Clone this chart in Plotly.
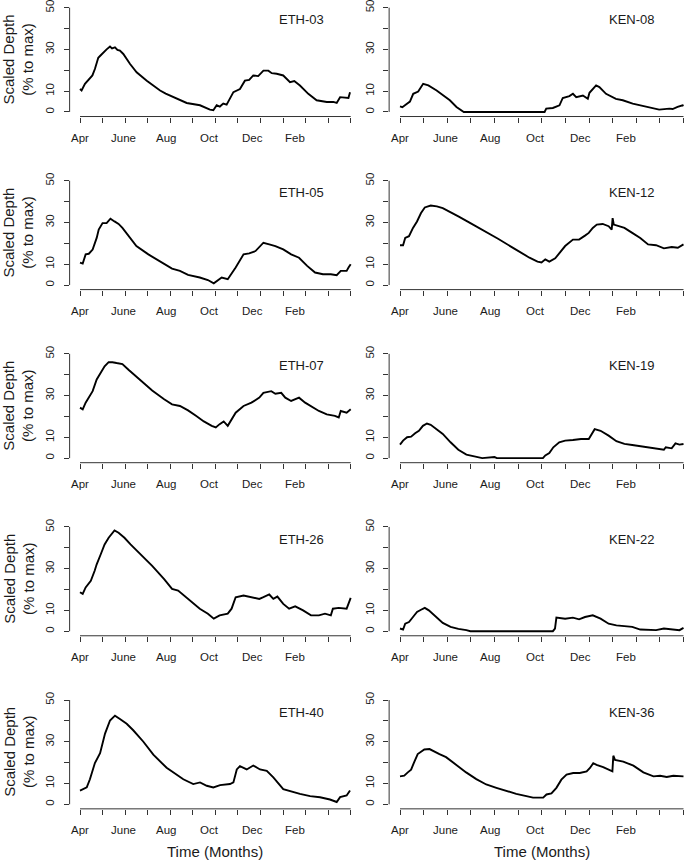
import plotly.graph_objects as go

W, H = 685, 860

# ---------------- data (months since 1 April, scaled depth %) ----------------
ETH03_m = [0, 0.07, 0.22, 0.44, 0.55, 0.66, 0.81, 0.92, 1.03, 1.18, 1.33, 1.42, 1.55, 1.66, 1.77, 1.92, 2.22, 2.51, 2.96, 3.55, 3.8, 4.14, 4.73, 5.32, 5.76, 5.91, 6.06, 6.2, 6.35, 6.5, 6.8, 7.09, 7.31, 7.5, 7.68, 7.9, 8.13, 8.35, 8.5, 8.72, 9.01, 9.31, 9.5, 9.75, 10.12, 10.49, 10.94, 11.23, 11.38, 11.53, 11.9, 11.97]
ETH03_v = [11, 10.3, 13.5, 15.9, 17.5, 20.6, 26, 27.2, 28.6, 30, 31.4, 30.5, 31, 29.8, 29.4, 27.8, 23, 19, 15, 10.3, 8.8, 7.1, 4.3, 3.2, 1.1, 0.8, 3.2, 2.6, 4, 3.5, 9.5, 11, 15, 15.4, 17.5, 17.2, 19.8, 19.8, 18.6, 18.3, 17.5, 14.3, 14.8, 12.7, 8.7, 5.6, 4.8, 4.8, 4.3, 7.1, 6.7, 9.5]

KEN08_m = [0, 0.1, 0.21, 0.42, 0.56, 0.77, 0.98, 1.2, 1.55, 1.83, 2.11, 2.39, 2.6, 2.7, 6.12, 6.19, 6.47, 6.75, 6.89, 7.17, 7.32, 7.46, 7.74, 7.95, 8.02, 8.23, 8.3, 8.44, 8.72, 9.14, 9.43, 9.85, 10.41, 10.83, 10.97, 11.4, 11.54, 11.75, 11.96, 12]
KEN08_v = [2.7, 2.3, 3.2, 5, 8.7, 9.8, 13.5, 12.7, 10.3, 7.9, 5.6, 2.4, 0.5, 0, 0, 1.6, 1.9, 3.2, 6.7, 7.6, 8.7, 7.1, 7.9, 6.3, 9.2, 11.9, 12.7, 11.9, 8.7, 6.3, 5.6, 4, 2.7, 1.6, 1.1, 1.6, 1.4, 2.4, 3.2, 2.9]

ETH05_m = [0, 0.12, 0.25, 0.39, 0.56, 0.74, 0.83, 1.0, 1.18, 1.35, 1.53, 1.71, 1.88, 2.15, 2.5, 3.03, 3.55, 4.08, 4.43, 4.79, 5.31, 5.67, 5.93, 6.11, 6.28, 6.55, 6.9, 7.25, 7.5, 7.78, 8.13, 8.39, 8.66, 9.01, 9.36, 9.71, 10.07, 10.42, 10.77, 11.12, 11.38, 11.56, 11.82, 11.91, 12]
ETH05_v = [10.8, 10.3, 14.7, 15, 17, 22.6, 26.6, 29.7, 29.7, 31.8, 30.5, 29.3, 27.4, 23.4, 18.7, 14.7, 11.2, 7.9, 6.8, 4.9, 3.6, 2.4, 0.8, 2.4, 3.6, 2.8, 8.4, 14.7, 15.2, 16.3, 20.3, 19.5, 18.7, 17.1, 14.7, 13.1, 9.2, 6, 5.2, 5.2, 4.7, 6.8, 6.8, 8.5, 10]

KEN12_m = [0, 0.13, 0.22, 0.38, 0.55, 0.72, 0.89, 1.05, 1.3, 1.56, 1.81, 2.14, 2.47, 2.98, 3.48, 4.15, 4.82, 5.48, 5.82, 5.99, 6.15, 6.32, 6.57, 6.82, 6.99, 7.32, 7.58, 7.83, 7.99, 8.16, 8.33, 8.58, 8.83, 8.96, 9.0, 9.05, 9.25, 9.5, 9.83, 10.17, 10.5, 10.84, 11.17, 11.5, 11.76, 12]
KEN12_v = [19.1, 19.1, 22.6, 23.4, 27.4, 30.5, 34.5, 37.2, 38.1, 37.7, 36.9, 35, 32.9, 29.7, 26.6, 22.2, 17.6, 13.1, 11.2, 10.8, 12.3, 11.2, 12.8, 16.3, 18.7, 21.8, 21.8, 23.7, 25, 27.4, 29, 29.3, 28.2, 26.6, 32.1, 29, 28.2, 27.4, 25, 22.6, 19.5, 19.1, 17.6, 18.2, 17.9, 19.5]

ETH07_m = [0, 0.12, 0.25, 0.39, 0.56, 0.74, 0.92, 1.09, 1.27, 1.44, 1.62, 1.88, 2.15, 2.5, 2.85, 3.2, 3.73, 4.08, 4.43, 4.79, 5.14, 5.49, 5.84, 6.02, 6.19, 6.37, 6.55, 6.9, 7.25, 7.6, 7.95, 8.13, 8.48, 8.66, 8.92, 9.1, 9.36, 9.71, 9.98, 10.33, 10.59, 10.94, 11.3, 11.47, 11.56, 11.82, 12]
ETH07_v = [24.2, 23.4, 26.6, 29.3, 32.1, 37.7, 40.8, 44, 46, 46, 45.6, 45.1, 42.4, 39.2, 35.6, 32.4, 28.2, 25.8, 25, 22.9, 20.3, 17.6, 15.5, 14.7, 16.3, 17.6, 15.5, 21.8, 25, 26.6, 29, 31.3, 32.1, 30.9, 31.3, 29, 27.4, 29, 26.6, 24.2, 22.6, 21, 20.3, 19.5, 22.6, 21.8, 23.4]

KEN19_m = [0, 0.13, 0.3, 0.47, 0.64, 0.8, 0.97, 1.14, 1.3, 1.56, 1.81, 2.14, 2.47, 2.81, 3.14, 3.48, 4.0, 4.1, 6.05, 6.15, 6.32, 6.49, 6.74, 6.99, 7.32, 7.66, 7.99, 8.16, 8.24, 8.49, 8.83, 9.16, 9.5, 9.83, 10.17, 10.5, 10.84, 11.17, 11.25, 11.5, 11.66, 11.83, 12]
KEN19_v = [6.5, 8.4, 10, 10.3, 11.9, 13.1, 15.5, 16.6, 16, 13.9, 11.6, 7.6, 4, 1.7, 0.8, 0, 0.5, 0, 0, 1.3, 2.4, 5.2, 7.6, 8.4, 8.7, 9.2, 9.2, 12.3, 13.9, 13.1, 10.8, 8.1, 6.8, 6.3, 5.7, 5.2, 4.7, 4, 5.2, 4.7, 7.1, 6.5, 6.8]

ETH26_m = [0, 0.12, 0.25, 0.48, 0.65, 0.74, 0.92, 1.09, 1.27, 1.44, 1.53, 1.71, 1.97, 2.24, 2.68, 3.2, 3.73, 4.08, 4.35, 4.79, 5.31, 5.67, 5.93, 6.19, 6.55, 6.72, 6.9, 7.25, 7.6, 7.95, 8.13, 8.39, 8.57, 8.75, 9.01, 9.27, 9.54, 9.89, 10.24, 10.59, 10.86, 11.12, 11.21, 11.47, 11.82, 11.91, 12]
ETH26_v = [18.7, 17.9, 21, 24.2, 29, 32.1, 36.9, 41.6, 44.8, 47.2, 48.3, 47.2, 44.8, 41.6, 36.9, 31.3, 25, 20.3, 19.5, 15.5, 10.8, 8.4, 6, 7.6, 8.4, 10.8, 16.3, 17.1, 16.3, 15.5, 16.3, 17.6, 15.5, 16.6, 13.1, 10.8, 11.9, 10, 7.6, 7.6, 8.4, 7.6, 10.8, 11.2, 10.8, 14, 16]

KEN22_m = [0, 0.13, 0.22, 0.38, 0.55, 0.72, 0.89, 1.05, 1.22, 1.47, 1.81, 2.14, 2.47, 2.81, 2.98, 6.47, 6.56, 6.62, 6.99, 7.32, 7.58, 7.83, 8.16, 8.49, 8.83, 9.16, 9.5, 9.83, 10.17, 10.5, 10.84, 11.17, 11.5, 11.83, 12]
KEN22_v = [1.3, 0.8, 3.6, 4.4, 6.8, 9.2, 10.3, 11.2, 10, 7.6, 4, 2.1, 1.1, 0.5, 0, 0, 1.3, 6.5, 6, 6.5, 5.7, 6.8, 7.6, 6, 3.6, 2.8, 2.4, 2.1, 0.8, 0.5, 0.5, 1.3, 0.8, 0.5, 1.6]

ETH40_m = [0, 0.3, 0.44, 0.66, 0.89, 1.11, 1.33, 1.55, 1.77, 2.07, 2.36, 2.81, 3.25, 3.84, 4.58, 5.02, 5.32, 5.62, 5.91, 6.21, 6.65, 6.8, 6.95, 7.09, 7.39, 7.68, 7.98, 8.28, 8.57, 9.01, 9.75, 10.2, 10.64, 11.08, 11.38, 11.53, 11.82, 11.97]
ETH40_v = [6.6, 8.1, 12, 19.8, 24.5, 33.9, 40.2, 42.5, 40.9, 38.6, 35.5, 30, 23.8, 17.5, 12, 9.7, 10.5, 8.9, 8.1, 9.2, 9.7, 10.5, 16.7, 18.3, 16.7, 18.6, 16.7, 16, 12.9, 7.3, 5, 3.9, 3.4, 2.3, 1.1, 3.4, 4.2, 6.6]

KEN36_m = [0, 0.18, 0.33, 0.47, 0.61, 0.75, 0.89, 1.03, 1.25, 1.46, 1.67, 1.95, 2.38, 2.8, 3.23, 3.65, 4.08, 4.5, 4.92, 5.35, 5.63, 6.06, 6.2, 6.41, 6.62, 6.83, 7.05, 7.33, 7.61, 7.9, 8.04, 8.18, 8.32, 8.6, 8.89, 8.99, 9.03, 9.1, 9.45, 9.88, 10.3, 10.73, 11.01, 11.29, 11.57, 11.86, 12]
KEN36_v = [13.4, 13.7, 15.3, 16.6, 20.5, 24.1, 25.2, 26.3, 26.5, 25.2, 24.1, 22.6, 18.9, 15.3, 12.1, 9.5, 7.9, 6.3, 5, 3.9, 3.2, 3.2, 4.7, 5.2, 7.9, 11.8, 14.2, 15, 15, 15.8, 17.4, 19.7, 18.9, 17.8, 16.2, 15.8, 23.3, 21.3, 20.5, 18.5, 15.3, 13.4, 13.7, 13.1, 13.7, 13.4, 13.4]

site_names = ["ETH-03", "KEN-08", "ETH-05", "KEN-12", "ETH-07", "KEN-19", "ETH-26", "KEN-22", "ETH-40", "KEN-36"]
site_m = [ETH03_m, KEN08_m, ETH05_m, KEN12_m, ETH07_m, KEN19_m, ETH26_m, KEN22_m, ETH40_m, KEN36_m]
site_v = [ETH03_v, KEN08_v, ETH05_v, KEN12_v, ETH07_v, KEN19_v, ETH26_v, KEN22_v, ETH40_v, KEN36_v]

month_ticks = list(range(13))
month_label_pos = [0, 1.91, 3.82, 5.73, 7.64, 9.55]
month_labels = ["Apr", "June", "Aug", "Oct", "Dec", "Feb"]
y_ticks = [0, 10, 20, 30, 40, 50]
y_ticktext = ["0", "10", "", "30", "", "50"]

# ---------------- layout geometry (pixels) ----------------
FONT = "Liberation Sans, Arial, Helvetica, sans-serif"
TXT = "#1a1a1a"
AX = "#333333"
row_p50 = [1.7 + 174.3 * r for r in range(5)]
col_x0 = [80.0, 400.0]
col_x12 = [350.7, 683.5]

fig = go.Figure()
layout = dict(
    width=W, height=H, margin=dict(l=0, r=0, t=0, b=0),
    paper_bgcolor="white", plot_bgcolor="white", showlegend=False,
    font=dict(family=FONT, color=TXT),
)
shapes = []
annotations = []

for i, name in enumerate(site_names):
    r, c = divmod(i, 2)
    n = i + 1
    xid = "x" if n == 1 else f"x{n}"
    yid = "y" if n == 1 else f"y{n}"
    xs = (col_x12[c] - col_x0[c]) / 12
    left = col_x0[c] - 0.46 * xs
    right = min(col_x12[c] + 0.46 * xs, W)
    p50 = row_p50[r]
    p0 = p50 + 105
    ys = 105 / 50
    top = max(p50 - 4.2, 0)
    bot = p0 + 4.6

    layout["xaxis" if n == 1 else f"xaxis{n}"] = dict(
        domain=[left / W, right / W],
        range=[(left - col_x0[c]) / xs, (right - col_x0[c]) / xs],
        anchor=yid, showgrid=False, zeroline=False, showline=False,
        tickmode="array", tickvals=month_ticks, ticktext=[""] * 13,
        ticks="outside", ticklen=5, tickwidth=1, tickcolor=AX,
        fixedrange=True,
    )
    layout["yaxis" if n == 1 else f"yaxis{n}"] = dict(
        domain=[1 - bot / H, 1 - top / H],
        range=[-(bot - p0) / ys, 50 + (p50 - top) / ys],
        anchor=xid, showgrid=False, zeroline=False, showline=False,
        tickmode="array", tickvals=y_ticks, ticktext=y_ticktext,
        ticks="outside", ticklen=5, tickwidth=1, tickcolor=AX,
        tickangle=-90, tickfont=dict(size=11.5, color=TXT, family=FONT),
        ticklabelstandoff=5, ticklabeloverflow="allow", fixedrange=True,
    )
    # detached R-style axis lines spanning the tick range only
    shapes.append(dict(type="line", xref=xid, yref=f"{yid} domain",
                       x0=month_ticks[0], x1=month_ticks[-1], y0=0, y1=0,
                       line=dict(color=AX, width=1)))
    shapes.append(dict(type="line", xref=f"{xid} domain", yref=yid,
                       x0=0, x1=0, y0=y_ticks[0], y1=y_ticks[-1],
                       line=dict(color=AX, width=1)))
    # month labels
    for pos, lab in zip(month_label_pos, month_labels):
        annotations.append(dict(x=pos, y=0, xref=xid, yref=f"{yid} domain",
                                text=lab, showarrow=False, xanchor="center",
                                yanchor="middle", yshift=-21.5,
                                font=dict(size=11.5, color=TXT, family=FONT)))
    # panel title
    annotations.append(dict(x=9.8, y=44.2, xref=xid, yref=yid, text=name,
                            showarrow=False, xanchor="center", yanchor="middle",
                            font=dict(size=13, color=TXT, family=FONT)))
    # y title for left column
    if c == 0:
        annotations.append(dict(x=18.7 / W, y=1 - (p50 + p0) / 2 / H,
                                xref="paper", yref="paper",
                                text="Scaled Depth<br>(% to max)", textangle=-90,
                                showarrow=False, xanchor="center", yanchor="middle",
                                font=dict(size=15, color=TXT, family=FONT)))
    # x title for bottom row
    if r == 4:
        annotations.append(dict(x=(col_x0[c] + col_x12[c]) / 2 / W, y=1 - 851.7 / H,
                                xref="paper", yref="paper", text="Time (Months)",
                                showarrow=False, xanchor="center", yanchor="middle",
                                font=dict(size=15, color=TXT, family=FONT)))

    fig.add_trace(go.Scatter(x=site_m[i], y=site_v[i], mode="lines",
                             line=dict(color="black", width=1.9),
                             xaxis=xid, yaxis=yid, hoverinfo="skip"))

layout["shapes"] = shapes
layout["annotations"] = annotations
fig.update_layout(**layout)
fig.write_html(
    "out.html",
    config={"displayModeBar": False, "staticPlot": True},
    post_script="document.body.style.margin='0';document.body.style.padding='0';document.body.style.overflow='hidden';",
)
